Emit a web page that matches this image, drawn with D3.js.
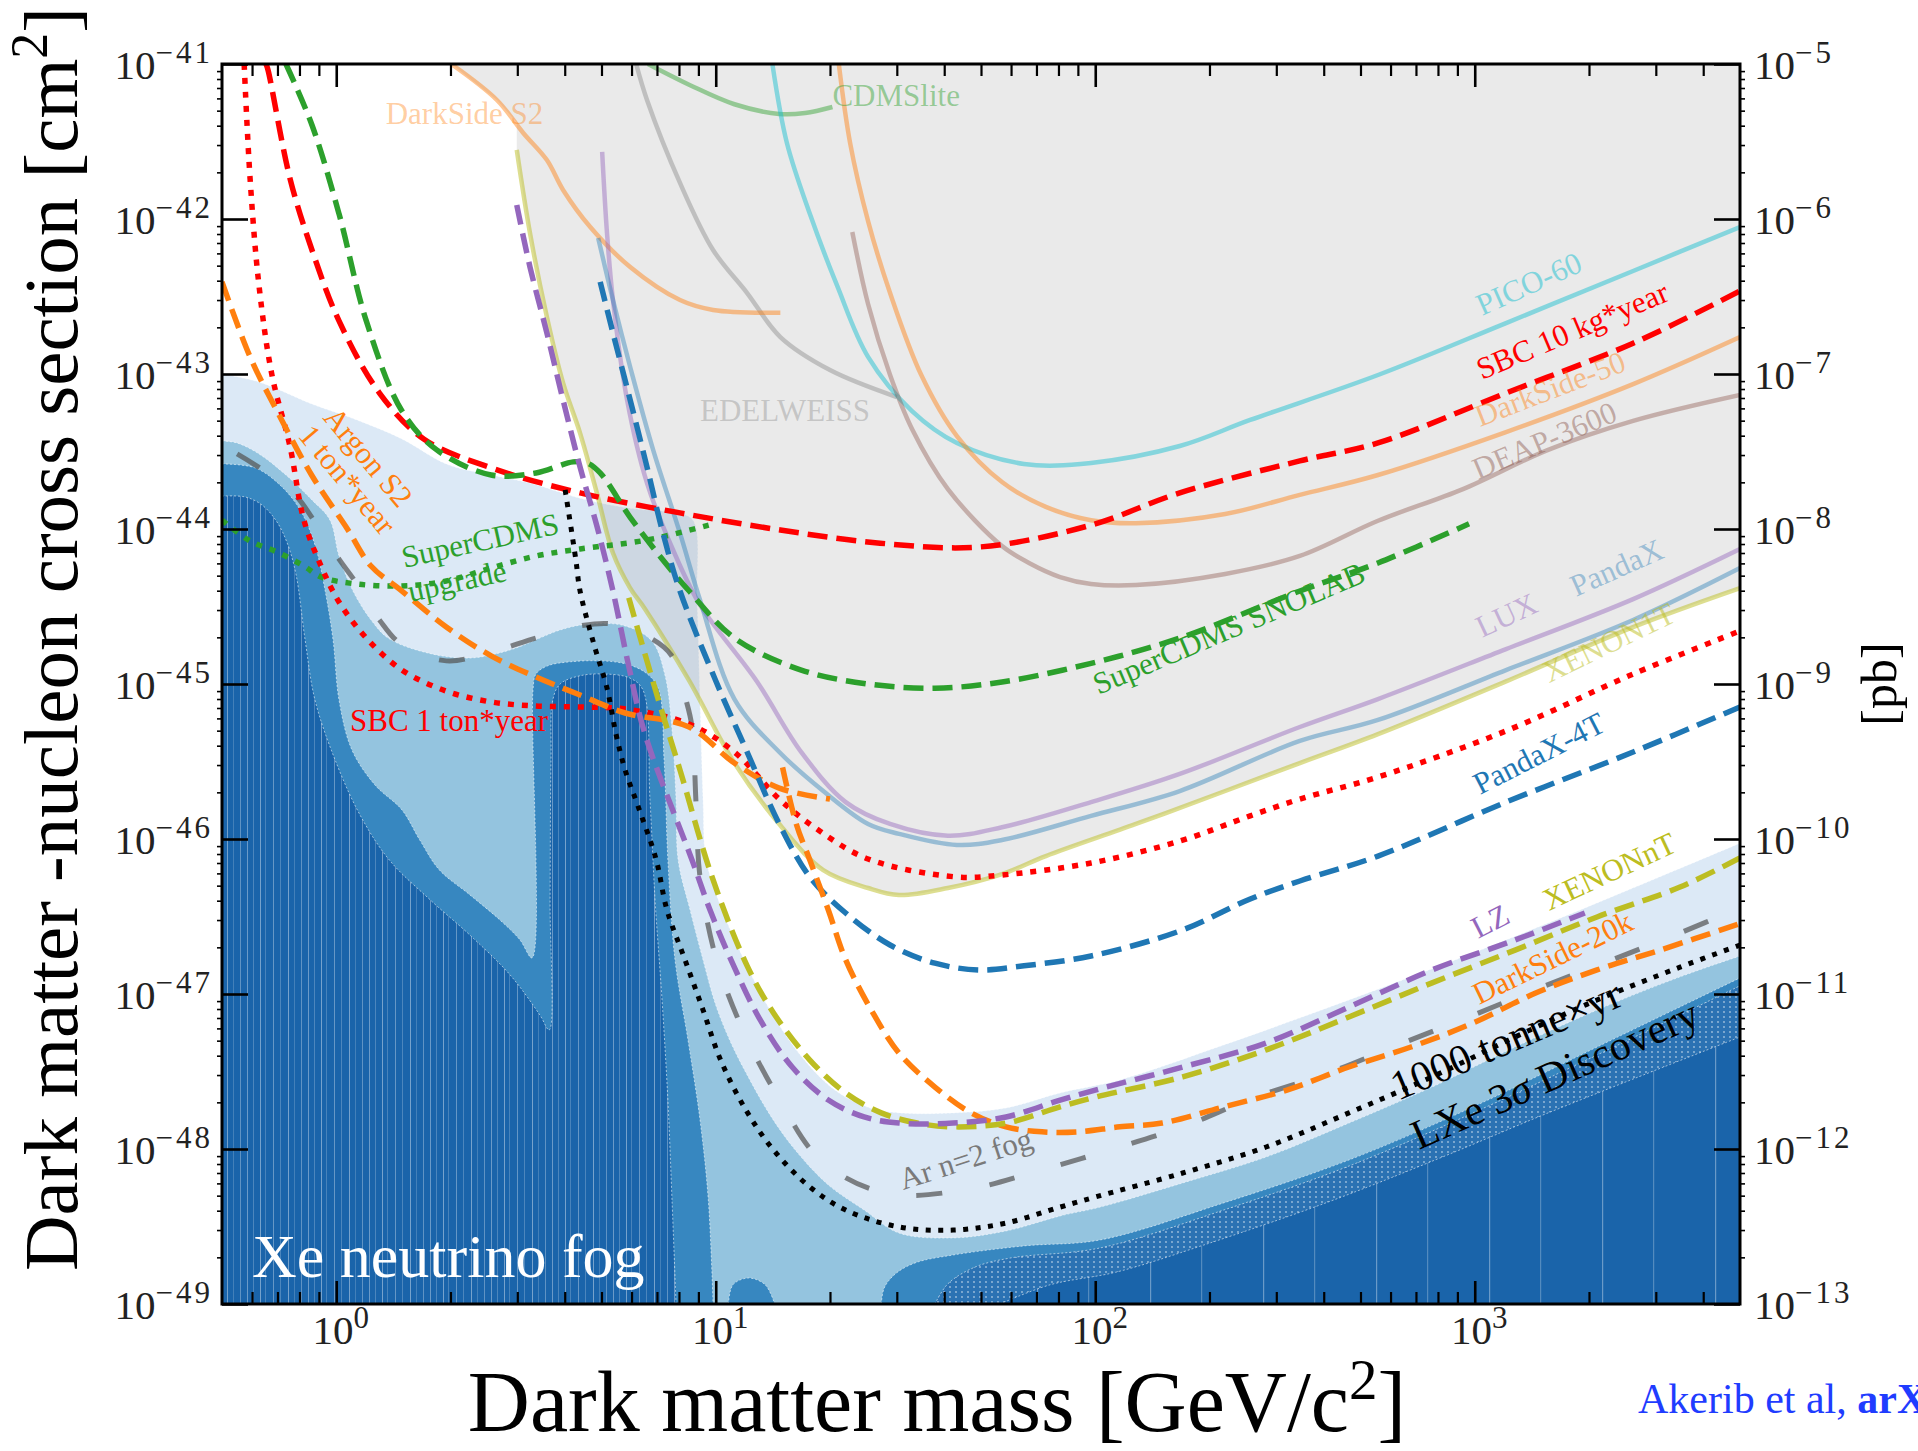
<!DOCTYPE html>
<html>
<head>
<meta charset="utf-8">
<script src="https://d3js.org/d3.v7.min.js"></script>
<style>
  html, body { margin: 0; padding: 0; background: #fff; }
  svg { display: block; }
  text { font-family: "Liberation Serif", "Times New Roman", serif; }
</style>
</head>
<body>
<svg id="chart" width="1918" height="1451"></svg>
<script>
// ------------------------------------------------------------------
// Data: [WIMP mass (GeV/c^2), SI WIMP-nucleon cross section (cm^2)]
// ------------------------------------------------------------------

// Tick labels (powers of ten)
const massTickPowers = [0, 1, 2, 3];
const cm2TickPowers = [-41, -42, -43, -44, -45, -46, -47, -48, -49];
const pbTickPowers = [-5, -6, -7, -8, -9, -10, -11, -12, -13];

// Current limits (solid lines)
const cdmsLite = [[6.63,1e-41],[8.56,7.3e-42],[11.2,5.5e-42],[14.7,4.76e-42],[17.2,4.83e-42],[20.3,5.28e-42]];
const edelweiss = [[6.17,1e-41],[6.59,5.86e-42],[8.05,1.71e-42],[9.84,6.31e-43],[12.1,3.33e-43],[14.8,1.73e-43],[20.0,1.06e-43],[30.0,7.1e-44]];
const darkSideS2 = [[2.01,1e-41],[2.65,5.86e-42],[3.11,3.59e-42],[3.59,2.40e-42],[3.96,1.54e-42],[4.67,8.88e-43],[5.95,4.9e-43],[8.05,3.0e-43],[9.84,2.59e-43],[14.8,2.48e-43]];
const pico60 = [[14.1,1e-41],[15.4,3.09e-42],[17.7,1.08e-42],[20.9,3.70e-43],[25.2,1.29e-43],[32.9,5.77e-44],[43.2,3.59e-44],[64.9,2.63e-44],[97.5,2.67e-44],[167,3.43e-44],[256,5.05e-44],[556,9.85e-44],[1209,2.13e-43],[2614,4.62e-43],[5000,8.88e-43]];
const darkSide50 = [[21.1,1e-41],[22.6,3.09e-42],[25.2,9.7e-43],[28.8,3.33e-43],[34.8,9.85e-44],[43.2,3.98e-44],[56.8,2.01e-44],[74.1,1.39e-44],[97.5,1.14e-44],[128,1.09e-44],[220,1.25e-44],[346,1.66e-44],[556,2.23e-44],[1209,4.22e-44],[2614,8.6e-44],[5000,1.73e-43]];
const deap3600 = [[22.9,8.24e-43],[25.2,2.83e-43],[28.8,9.85e-44],[32.9,4.42e-44],[40.9,1.81e-44],[56.8,7.76e-45],[66.9,6.04e-45],[80.8,4.9e-45],[97.5,4.42e-45],[128,4.35e-45],[220,5.13e-45],[346,6.7e-45],[556,1.13e-44],[931,1.81e-44],[1561,3.24e-44],[2614,4.98e-44],[5000,7.32e-44]];
const lux = [[5.02,2.71e-42],[5.17,8.1e-43],[5.36,3.0e-43],[5.84,6.8e-44],[6.59,1.98e-44],[7.72,7.32e-45],[9.09,3.24e-45],[12.8,1.05e-45],[16.8,3.64e-46],[22.0,1.73e-46],[28.8,1.25e-46],[40.9,1.05e-46],[56.8,1.19e-46],[97.5,1.73e-46],[167,2.63e-46],[346,5.28e-46],[556,8.0e-46],[1209,1.68e-45],[2614,3.53e-45],[5000,7.43e-45]];
const pandaX = [[4.9,7.54e-43],[5.36,3.0e-43],[5.95,1.11e-43],[6.84,3.24e-44],[8.05,9.4e-45],[9.09,3.48e-45],[11.2,8.0e-46],[14.7,3.64e-46],[19.2,2.04e-46],[25.2,1.25e-46],[30.4,1.08e-46],[43.2,9.15e-47],[56.8,9.85e-47],[97.5,1.41e-46],[167,2.04e-46],[346,4.29e-46],[556,5.86e-46],[1209,1.23e-45],[2614,2.59e-45],[5000,5.6e-45]];
const xenon1T = [[2.99,2.79e-42],[3.24,8.1e-43],[3.59,2.33e-43],[3.96,8.75e-44],[4.39,4.16e-44],[4.86,1.71e-44],[5.36,7.0e-45],[5.95,4.16e-45],[6.51,3.05e-45],[8.51,1.05e-45],[11.2,3.09e-46],[14.7,1.25e-46],[19.2,6.3e-47],[25.2,4.83e-47],[30.4,4.35e-47],[40.9,4.83e-47],[56.8,5.94e-47],[74.1,7.76e-47],[128,1.25e-46],[220,2.04e-46],[346,3.09e-46],[556,4.75e-46],[1209,1.04e-45],[2613,2.33e-45],[5000,4.16e-45]];
// Excluded region edge above XENON1T at low mass
const excludedTop = [[2.01,1e-41],[2.65,5.86e-42],[2.99,4.2e-42]];

// Projected sensitivities
const sbc10kg = [[0.653,1e-41],[0.661,9.15e-42],[0.756,1.81e-42],[0.863,6.31e-43],[1.017,2.2e-43],[1.30,7.54e-44],[1.70,3.81e-44],[2.56,2.48e-44],[4.39,1.71e-44],[8.05,1.27e-44],[14.8,9.85e-45],[27.1,8.1e-45],[49.7,7.66e-45],[97.5,1.06e-44],[167,1.71e-44],[346,2.75e-44],[556,3.59e-44],[1209,7.54e-44],[2614,1.58e-43],[5000,3.43e-43]];
const superCdmsSnolab = [[0.737,1e-41],[0.863,4.04e-42],[1.017,1.08e-42],[1.20,2.2e-43],[1.49,5.77e-44],[1.84,3.24e-44],[2.56,2.23e-44],[3.36,2.3e-44],[4.21,2.71e-44],[4.58,2.67e-44],[4.96,2.3e-44],[5.95,1.19e-44],[7.26,6.31e-45],[8.51,3.98e-45],[11.2,1.98e-45],[16.8,1.23e-45],[25.2,1e-45],[37.8,9.4e-46],[56.8,1.03e-45],[97.5,1.36e-45],[167,1.98e-45],[346,3.98e-45],[556,6.04e-45],[966,1.08e-44]];
const superCdmsUpgrade = [[0.5,1.14e-44],[0.593,8.37e-45],[0.698,7.11e-45],[0.822,5.77e-45],[0.912,4.9e-45],[1.13,4.42e-45],[1.49,4.29e-45],[1.95,4.62e-45],[2.56,5.6e-45],[3.36,6.7e-45],[4.39,7.43e-45],[6.59,8.49e-45],[10.03,1.09e-44]];
const sbc1ton = [[0.572,1e-41],[0.593,1.81e-42],[0.626,3.70e-43],[0.677,9.85e-44],[0.755,3.43e-44],[0.822,1.14e-44],[0.912,5.77e-45],[1.017,3.38e-45],[1.20,1.98e-45],[1.49,1.23e-45],[1.95,9.0e-46],[2.56,7.66e-46],[3.36,7.21e-46],[4.39,7.11e-46],[5.77,6.9e-46],[8.51,5.52e-46],[11.2,3.64e-46],[14.7,1.81e-46],[18.2,1.19e-46],[25.2,7.43e-47],[43.2,5.69e-47],[56.8,5.86e-47],[97.5,7.0e-47],[167,9.7e-47],[256,1.41e-46],[346,1.81e-46],[556,2.51e-46],[1209,4.98e-46],[2614,1.16e-45],[5000,2.2e-45]];
const argonS2 = [[0.5,3.93e-43],[0.593,1.29e-43],[0.698,5.77e-44],[0.861,2.23e-44],[1.07,1e-44],[1.235,5.77e-45],[1.49,3.98e-45],[1.95,2.33e-45],[2.56,1.52e-45],[3.36,1.11e-45],[4.39,8.49e-46],[5.77,6.5e-46],[8.51,5.28e-46],[11.2,3.09e-46],[14.7,2.13e-46],[20.0,1.81e-46]];
const darkSide20k = [[15.0,2.9e-46],[16.3,1.25e-46],[17.7,7.32e-47],[19.8,3.48e-47],[22.0,1.66e-47],[25.7,7.88e-48],[30.4,4.16e-48],[37.8,2.51e-48],[47.1,1.71e-48],[58.2,1.39e-48],[72.4,1.29e-48],[90.1,1.29e-48],[116,1.39e-48],[150,1.47e-48],[218,1.87e-48],[320,2.4e-48],[466,3.38e-48],[679,4.55e-48],[990,6.5e-48],[1442,1.01e-47],[2100,1.43e-47],[3080,1.92e-47],[5000,2.85e-47]];
const lz = [[2.99,1.23e-42],[3.24,4.9e-43],[3.59,1.84e-43],[3.96,6.8e-44],[4.39,2.51e-44],[4.87,1.03e-44],[5.36,3.98e-45],[5.9,1.3e-45],[6.51,4.75e-46],[8.66,7.32e-47],[9.66,3.48e-47],[10.97,1.66e-47],[13.1,6.8e-48],[15.9,3.38e-48],[19.8,2.07e-48],[24.6,1.61e-48],[30.4,1.47e-48],[42.2,1.47e-48],[58.2,1.61e-48],[80.8,2.07e-48],[100,2.4e-48],[170,3.38e-48],[282,4.83e-48],[466,8.24e-48],[772,1.43e-47],[1277,2.23e-47],[1950,3.33e-47]];
const xenonNT = [[5.9,3.6e-45],[7.05,8.0e-46],[8.05,2.79e-46],[9.78,5.69e-47],[12.1,1.52e-47],[14.2,7.54e-48],[17.7,3.75e-48],[22.0,2.3e-48],[27.3,1.71e-48],[33.9,1.47e-48],[42.2,1.39e-48],[58.2,1.47e-48],[80.8,1.87e-48],[100,2.16e-48],[170,2.92e-48],[282,4.36e-48],[466,7.11e-48],[772,1.18e-47],[1277,1.92e-47],[2100,3.14e-47],[3475,4.9e-47],[5000,7.54e-47]];
const pandaX4T = [[4.96,3.93e-43],[5.36,1.84e-43],[5.95,6.8e-44],[6.59,2.51e-44],[7.26,9.4e-45],[8.05,3.98e-45],[10.0,1.05e-45],[12.1,3.64e-46],[14.7,1.25e-46],[17.7,5.69e-47],[22.0,3.33e-47],[28.8,2.07e-47],[37.8,1.58e-47],[49.4,1.43e-47],[64.9,1.52e-47],[97.5,1.76e-47],[167,2.55e-47],[256,4.1e-47],[346,5.36e-47],[556,7.76e-47],[1209,1.73e-46],[2614,3.64e-46],[5000,7.11e-46]];
const lxeDiscovery = [[4.01,1.79e-44],[4.28,6.31e-45],[4.39,3.98e-45],[4.78,1.79e-45],[5.17,9.4e-46],[5.46,4.75e-46],[5.77,2.79e-46],[6.24,1.63e-46],[6.96,7.43e-47],[7.44,3.48e-47],[8.3,1.66e-47],[9.26,7.88e-48],[10.3,3.75e-48],[12.0,1.79e-48],[14.2,9.85e-49],[17.7,5.69e-49],[22.0,4.04e-49],[30.4,3.14e-49],[42.2,3.0e-49],[58.2,3.33e-49],[80.8,4.22e-49],[100,4.9e-49],[170,7.0e-49],[282,1.03e-48],[466,1.71e-48],[772,2.92e-48],[1277,5.28e-48],[2100,9.15e-48],[3475,1.49e-47],[5000,2.07e-47]];
const argonFog = [[0.548,3.05e-44],[0.641,2.4e-44],[0.779,1.66e-44],[0.906,9.85e-45],[1.017,6.4e-45],[1.134,4.42e-45],[1.30,2.59e-45],[1.49,1.79e-45],[1.95,1.41e-45],[2.56,1.61e-45],[3.36,1.98e-45],[4.39,2.37e-45],[5.33,2.44e-45],[6.51,2.07e-45],[7.63,1.54e-45],[8.35,7.88e-46],[8.66,5.28e-46],[8.87,1.73e-46],[9.09,5.69e-47],[10.0,1.73e-47],[11.7,6.12e-48],[14.6,2.16e-48],[18.9,8.49e-49],[27.9,5.2e-49],[45.1,5.43e-49],[69.4,7.11e-49],[109,9.85e-49],[170,1.39e-48],[260,2.13e-48],[411,3.09e-48],[628,4.69e-48],[966,7.11e-48],[1477,1.09e-47],[2300,1.66e-47],[3520,2.51e-47],[5000,3.59e-47]];

// Xe neutrino fog contour levels (upper edges, lightest to darkest)
const fogLevel1 = [[0.5,1e-43],[0.626,8.88e-44],[0.863,6.4e-44],[1.134,5.05e-44],[1.49,3.81e-44],[1.95,2.63e-44],[2.56,2.23e-44],[3.24,1.98e-44],[4.39,1.58e-44],[5.95,1.36e-44],[7.81,1.27e-44],[8.71,1.14e-44],[8.93,3.48e-45],[9.09,7.88e-46],[9.26,1.79e-46],[9.44,7.32e-47],[10.4,3.48e-47],[11.7,1.79e-47],[13.9,7.88e-48],[16.7,4.04e-48],[20.6,2.4e-48],[25.5,1.84e-48],[30.6,1.71e-48],[42.2,1.71e-48],[58.2,1.84e-48],[80.8,2.3e-48],[116,2.79e-48],[218,4.69e-48],[466,9.15e-48],[990,1.84e-47],[2100,3.87e-47],[5000,9.4e-47]];
const fogLevel2 = [[0.5,3.7e-44],[0.548,3.59e-44],[0.626,3.05e-44],[0.737,2.23e-44],[0.863,1.54e-44],[0.963,1.14e-44],[1.017,6.7e-45],[1.107,3.98e-45],[1.235,2.59e-45],[1.37,1.98e-45],[1.70,1.61e-45],[2.24,1.47e-45],[2.92,1.68e-45],[3.44,1.98e-45],[3.89,2.23e-45],[4.64,2.44e-45],[5.77,2.37e-45],[6.79,1.89e-45],[7.35,1.14e-45],[7.67,5.05e-46],[7.86,1.79e-46],[7.96,7.32e-47],[8.56,3.48e-47],[9.26,1.66e-47],[10.0,8.49e-48],[10.97,4.83e-48],[12.3,2.79e-48],[13.9,1.66e-48],[16.2,9.85e-49],[19.8,5.86e-49],[24.6,4.04e-49],[30.4,2.87e-49],[42.2,2.67e-49],[58.2,2.96e-49],[80.8,3.7e-49],[103,4.22e-49],[170,6.04e-49],[282,8.88e-49],[466,1.47e-48],[772,2.51e-48],[1277,4.55e-48],[2100,7.88e-48],[3475,1.29e-47],[5000,1.76e-47]];
const fogLevel3Left = [[0.5,2.63e-44],[0.611,2.48e-44],[0.711,1.92e-44],[0.803,1.33e-44],[0.879,7.88e-45],[0.934,4.04e-45],[0.981,1.92e-45],[1.017,7.88e-46],[1.10,3.75e-46],[1.265,2.23e-46],[1.49,1.54e-46],[1.66,9.85e-47],[1.87,6.31e-47],[2.25,4.36e-47],[2.70,3.0e-47],[3.05,2.23e-47],[3.28,1.71e-47],[3.30,9.15e-46],[3.36,1.16e-45],[3.61,1.31e-45],[4.13,1.39e-45],[4.96,1.41e-45],[5.77,1.35e-45],[6.51,1.19e-45],[7.05,9.4e-46],[7.31,3.24e-46],[7.48,7.32e-47],[7.81,1.66e-47],[8.45,5.05e-48],[9.09,1.54e-48],[9.56,4.69e-49],[9.84,1e-49]];
const fogLevel3Lobe = [[10.8,1e-49],[11.1,1.33e-49],[12.2,1.47e-49],[13.5,1.33e-49],[14.3,1e-49]];
const fogLevel3Right = [[27.3,1e-49],[27.8,1.27e-49],[29.7,1.56e-49],[33.5,1.84e-49],[42.2,2.07e-49],[64.9,2.37e-49],[103,2.59e-49],[218,4.49e-49],[466,8.49e-49],[990,1.87e-48],[2100,4.55e-48],[5000,1.27e-47]];
const fogLevel4Left = [[0.5,1.63e-44],[0.575,1.61e-44],[0.637,1.43e-44],[0.698,1.11e-44],[0.746,7.88e-45],[0.784,5.05e-45],[0.828,1.92e-45],[0.879,7.88e-46],[0.993,3.24e-46],[1.155,1.43e-46],[1.38,7.32e-47],[1.77,4.04e-47],[2.25,2.4e-47],[2.87,1.33e-47],[3.44,7.32e-48],[3.64,5.86e-48],[3.66,4.04e-47],[3.68,3.24e-46],[3.72,7.88e-46],[3.89,1e-45],[4.39,1.13e-45],[5.11,1.16e-45],[5.95,1.09e-45],[6.43,9.15e-46],[6.71,1.79e-46],[6.92,4.04e-47],[7.22,9.15e-48],[7.48,2.07e-48],[7.67,4.69e-49],[7.86,1e-49]];
const fogLevel4Band = [[37.8,1e-49],[40.9,1.35e-49],[48.2,1.73e-49],[59.7,1.98e-49],[103,2.3e-49],[218,4.04e-49],[466,7.76e-49],[990,1.71e-48],[2100,4.04e-48],[5000,1.13e-47]];
const fogLevel4Right = [[56.1,1e-49],[76.0,1.33e-49],[114,1.61e-49],[193,2.4e-49],[411,4.55e-49],[810,8.75e-49],[1561,1.71e-48],[5000,5.28e-48]];

// ------------------------------------------------------------------
// Layout and scales
// ------------------------------------------------------------------
const W = 1918, H = 1451;
const M = { left: 222, right: 1740, top: 64, bottom: 1304 };
const massDomain = [0.5, 5000];
const sigmaDomain = [1e-49, 1e-41];

const x = d3.scaleLog().domain(massDomain).range([M.left, M.right]);
const y = d3.scaleLog().domain(sigmaDomain).range([M.bottom, M.top]);
const yPb = d3.scaleLog().domain([1e-13, 1e-5]).range([M.bottom, M.top]);

const dec = p => +("1e" + p);
const line = d3.line().x(d => x(d[0])).y(d => y(d[1])).curve(d3.curveCatmullRom.alpha(0.5));
const lineLinear = d3.line().x(d => x(d[0])).y(d => y(d[1]));

const svg = d3.select("#chart");
svg.append("rect").attr("width", W).attr("height", H).attr("fill", "#fff");

const defs = svg.append("defs");
defs.append("clipPath").attr("id", "plotClip")
  .append("rect").attr("x", M.left).attr("y", M.top)
  .attr("width", M.right - M.left).attr("height", M.bottom - M.top);

// streak texture inside the darkest fog level
const streaks = defs.append("pattern").attr("id", "streaks")
  .attr("patternUnits", "userSpaceOnUse").attr("width", 61).attr("height", 40);
[[3, .35], [9, .22], [16, .4], [21, .2], [29, .33], [36, .22], [44, .4], [50, .18], [57, .3]]
  .forEach(([px, o]) => streaks.append("rect").attr("x", px).attr("y", 0)
    .attr("width", 1).attr("height", 40).attr("fill", "#fff").attr("fill-opacity", o));
const sparse = defs.append("pattern").attr("id", "streaksSparse")
  .attr("patternUnits", "userSpaceOnUse").attr("width", 113).attr("height", 40);
[[20, .35], [71, .25]].forEach(([px, o]) => sparse.append("rect").attr("x", px).attr("y", 0)
  .attr("width", 1.2).attr("height", 40).attr("fill", "#fff").attr("fill-opacity", o));
// dotted contour band texture
const dots = defs.append("pattern").attr("id", "dots")
  .attr("patternUnits", "userSpaceOnUse").attr("width", 6).attr("height", 5);
dots.append("rect").attr("width", 6).attr("height", 5).attr("fill", "#2b72b3");
dots.append("circle").attr("cx", 2).attr("cy", 2).attr("r", 0.9).attr("fill", "#fff").attr("fill-opacity", 0.55);

const plot = svg.append("g").attr("clip-path", "url(#plotClip)");

// ------------------------------------------------------------------
// Neutrino fog
// ------------------------------------------------------------------
const BL = [massDomain[0], sigmaDomain[0]], BR = [massDomain[1], sigmaDomain[0]];
const fogPath = (edge, closing) =>
  line(edge) + closing.map(p => `L${x(p[0])},${y(p[1])}`).join("") + "Z";

const fogLayers = [
  { edge: fogLevel1, close: [BR, BL], fill: "#dce9f6" },
  { edge: fogLevel2, close: [BR, BL], fill: "#94c4df" },
  { edge: fogLevel3Left, close: [BL], fill: "#3787c0" },
  { edge: fogLevel3Lobe, close: [], fill: "#3787c0" },
  { edge: fogLevel3Right, close: [BR], fill: "#3787c0" },
  { edge: fogLevel4Left, close: [BL], fill: "#1a64aa", texture: "url(#streaks)" },
  { edge: fogLevel4Band, close: [BR], fill: "url(#dots)" },
  { edge: fogLevel4Right, close: [BR], fill: "#1a64aa", texture: "url(#streaksSparse)" }
];
fogLayers.forEach(l => {
  const d = fogPath(l.edge, l.close);
  plot.append("path").attr("d", d).attr("fill", l.fill);
  if (l.texture) plot.append("path").attr("d", d).attr("fill", l.texture);
  plot.append("path").attr("d", d).attr("fill", "none")
    .attr("stroke", "#fff").attr("stroke-width", 1).attr("stroke-opacity", 0.55)
    .attr("stroke-dasharray", "2,2");
});

// ------------------------------------------------------------------
// Excluded region (above current limits)
// ------------------------------------------------------------------
plot.append("path")
  .attr("d", lineLinear(excludedTop) + line(xenon1T).replace(/^M/, "L") +
    `L${x(massDomain[1])},${y(sigmaDomain[1])}Z`)
  .attr("fill", "#808080").attr("fill-opacity", 0.17);

// ------------------------------------------------------------------
// Limit curves
// ------------------------------------------------------------------
const DASH = "20,9", DOT = "6,8", DOT_BLACK = "5,7.5";
const curves = [
  // current results
  { data: cdmsLite, color: "#2ca02c", op: 0.45, w: 4.5 },
  { data: edelweiss, color: "#7f7f7f", op: 0.4, w: 4.5 },
  { data: darkSideS2, color: "#ff7f0e", op: 0.45, w: 4.5 },
  { data: pico60, color: "#17becf", op: 0.48, w: 4.5 },
  { data: darkSide50, color: "#ff7f0e", op: 0.45, w: 4.5 },
  { data: deap3600, color: "#8c564b", op: 0.4, w: 4.5 },
  { data: lux, color: "#9467bd", op: 0.45, w: 4.5 },
  { data: pandaX, color: "#1f77b4", op: 0.4, w: 4.5 },
  { data: xenon1T, color: "#bcbd22", op: 0.5, w: 4.5 },
  // projections
  { data: argonFog, color: "#555", op: 0.72, w: 5, dash: "26,48" },
  { data: superCdmsUpgrade, color: "#2ca02c", op: 1, w: 5.5, dash: DOT },
  { data: sbc1ton, color: "#ff0000", op: 1, w: 5.5, dash: DOT },
  { data: argonS2, color: "#ff7f0e", op: 1, w: 5.5, dash: DASH },
  { data: sbc10kg, color: "#ff0000", op: 1, w: 5.5, dash: DASH },
  { data: superCdmsSnolab, color: "#2ca02c", op: 1, w: 5.5, dash: DASH },
  { data: pandaX4T, color: "#1f77b4", op: 1, w: 5.5, dash: DASH },
  { data: darkSide20k, color: "#ff7f0e", op: 1, w: 5.5, dash: DASH },
  { data: xenonNT, color: "#bcbd22", op: 1, w: 5.5, dash: DASH },
  { data: lz, color: "#9467bd", op: 1, w: 5.5, dash: DASH },
  { data: lxeDiscovery, color: "#000", op: 1, w: 5, dash: DOT_BLACK }
];
curves.forEach(c => {
  plot.append("path").attr("d", line(c.data)).attr("fill", "none")
    .attr("stroke", c.color).attr("stroke-opacity", c.op).attr("stroke-width", c.w)
    .attr("stroke-dasharray", c.dash || null).attr("stroke-linecap", "butt")
    .attr("stroke-linejoin", "round");
});

// ------------------------------------------------------------------
// Curve labels (anchored in data coordinates)
// ------------------------------------------------------------------
const curveLabels = [
  { text: "CDMSlite", at: [20.3, 5.36e-42], angle: 0, color: "#2ca02c", op: 0.45 },
  { text: "DarkSide S2", at: [1.35, 4.1e-42], angle: 0, color: "#ff7f0e", op: 0.4 },
  { text: "EDELWEISS", at: [9.09, 4.98e-44], angle: 0, color: "#7f7f7f", op: 0.35 },
  { text: "PICO-60", at: [1045, 2.37e-43], angle: -24, color: "#17becf", op: 0.5 },
  { text: "SBC 10 kg*year", at: [1045, 9.15e-44], angle: -23, color: "#ff0000", op: 1 },
  { text: "DarkSide-50", at: [1032, 4.55e-44], angle: -21, color: "#ff7f0e", op: 0.45 },
  { text: "DEAP-3600", at: [1020, 2.07e-44], angle: -23, color: "#8c564b", op: 0.45 },
  { text: "SuperCDMS SNOLAB", at: [102, 8.49e-46], angle: -23, color: "#2ca02c", op: 1 },
  { text: "LUX", at: [1045, 1.98e-45], angle: -25, color: "#9467bd", op: 0.45 },
  { text: "PandaX", at: [1849, 3.64e-45], angle: -24, color: "#1f77b4", op: 0.4 },
  { text: "XENON1T", at: [1569, 1.01e-45], angle: -26, color: "#bcbd22", op: 0.5 },
  { text: "PandaX-4T", at: [1032, 1.92e-46], angle: -27, color: "#1f77b4", op: 1 },
  { text: "LZ", at: [1020, 2.26e-47], angle: -27, color: "#9467bd", op: 1 },
  { text: "XENONnT", at: [1569, 3.43e-47], angle: -25, color: "#bcbd22", op: 1 },
  { text: "DarkSide-20k", at: [1026, 8.49e-48], angle: -26, color: "#ff7f0e", op: 1 },
  { text: "Ar n=2 fog", at: [31.2, 5.43e-49], angle: -18, color: "#7a7a7a", op: 1 },
  { text: "SuperCDMS", at: [1.51, 5.6e-45], angle: -12.5, color: "#2ca02c", op: 1 },
  { text: "upgrade", at: [1.57, 3.38e-45], angle: -12.5, color: "#2ca02c", op: 1 },
  { text: "Argon S2", at: [0.917, 5.2e-44], angle: 50, color: "#ff7f0e", op: 1 },
  { text: "1 ton*year", at: [0.788, 3.98e-44], angle: 50, color: "#ff7f0e", op: 1 },
  { text: "SBC 1 ton*year", at: [1.087, 4.98e-46], angle: 0, color: "#ff0000", op: 1 }
];
const labelLayer = svg.append("g");
curveLabels.forEach(l => {
  labelLayer.append("text")
    .attr("transform", `translate(${x(l.at[0])},${y(l.at[1])}) rotate(${l.angle})`)
    .attr("font-size", 31).attr("fill", l.color).attr("fill-opacity", l.op)
    .text(l.text);
});
labelLayer.append("text")
  .attr("transform", `translate(${x(628)},${y(2.04e-48)}) rotate(-23)`)
  .attr("font-size", 42).attr("fill", "#000").text("1000 tonne\u00d7yr");
const disc = labelLayer.append("text")
  .attr("transform", `translate(${x(713)},${y(9.85e-49)}) rotate(-24)`)
  .attr("font-size", 42).attr("fill", "#000");
disc.append("tspan").text("LXe 3");
disc.append("tspan").attr("font-style", "italic").text("\u03c3");
disc.append("tspan").text(" Discovery");
labelLayer.append("text")
  .attr("x", x(0.600)).attr("y", y(1.49e-49))
  .attr("font-size", 62).attr("fill", "#fff").text("Xe neutrino fog");

// ------------------------------------------------------------------
// Axes
// ------------------------------------------------------------------
const minorBetween = (p0, p1, lo, hi) => {
  const out = [];
  for (let p = p0; p <= p1; p++)
    for (let k = 2; k <= 9; k++) { const v = k * dec(p); if (v > lo && v < hi) out.push(v); }
  return out;
};
const massMajor = massTickPowers.map(dec);
const massMinor = minorBetween(-1, 3, massDomain[0], massDomain[1]);
const cm2Major = cm2TickPowers.map(dec);
const cm2Minor = minorBetween(-49, -42, sigmaDomain[0], sigmaDomain[1]);
const pbMajor = pbTickPowers.map(dec);
const pbMinor = minorBetween(-13, -6, 1e-13, 1e-5);

const axes = svg.append("g");
const addAxis = (axis, tx, ty, width) => {
  const g = axes.append("g").attr("transform", `translate(${tx},${ty})`).call(axis);
  g.select(".domain").remove();
  g.selectAll("text").remove();
  g.selectAll(".tick line").attr("stroke", "#000").attr("stroke-width", width);
};
addAxis(d3.axisTop(x).tickValues(massMajor).tickSize(-23).tickFormat(""), 0, M.top, 2.6);
addAxis(d3.axisTop(x).tickValues(massMinor).tickSize(-12).tickFormat(""), 0, M.top, 2.2);
addAxis(d3.axisBottom(x).tickValues(massMajor).tickSize(-23).tickFormat(""), 0, M.bottom, 2.6);
addAxis(d3.axisBottom(x).tickValues(massMinor).tickSize(-12).tickFormat(""), 0, M.bottom, 2.2);
addAxis(d3.axisLeft(y).tickValues(cm2Major).tickSize(-26).tickFormat(""), M.left, 0, 2.6);
addAxis(d3.axisLeft(y).tickValues(cm2Minor).tickSize(5).tickFormat(""), M.left, 0, 1.6);
addAxis(d3.axisRight(yPb).tickValues(pbMajor).tickSize(-26).tickFormat(""), M.right, 0, 2.6);
addAxis(d3.axisRight(yPb).tickValues(pbMinor).tickSize(5).tickFormat(""), M.right, 0, 1.6);

axes.append("rect").attr("x", M.left).attr("y", M.top)
  .attr("width", M.right - M.left).attr("height", M.bottom - M.top)
  .attr("fill", "none").attr("stroke", "#000").attr("stroke-width", 3);

const powerLabel = (g, px, py, p, anchor) => {
  const t = g.append("text").attr("x", px).attr("y", py).attr("text-anchor", anchor)
    .attr("font-size", 41).attr("fill", "#222");
  t.append("tspan").text("10");
  t.append("tspan").attr("dy", -16).attr("font-size", 31).attr("letter-spacing", 3)
    .text(p < 0 ? "\u2212" + (-p) : String(p));
};
const tickLabels = svg.append("g");
massTickPowers.forEach(p => powerLabel(tickLabels, x(dec(p)) + 6, M.bottom + 40, p, "middle"));
cm2TickPowers.forEach(p => powerLabel(tickLabels, 213, y(dec(p)) + 15, p, "end"));
pbTickPowers.forEach(p => powerLabel(tickLabels, 1754, yPb(dec(p)) + 15, p, "start"));

// Axis titles
const xt = svg.append("text").attr("x", 937).attr("y", 1431).attr("text-anchor", "middle")
  .attr("font-size", 86).attr("fill", "#000");
xt.append("tspan").text("Dark matter mass [GeV/c");
xt.append("tspan").attr("dy", -32).attr("font-size", 57).text("2");
xt.append("tspan").attr("dy", 32).text("]");

const yt = svg.append("text").attr("transform", "translate(77,639) rotate(-90)")
  .attr("text-anchor", "middle").attr("font-size", 77).attr("fill", "#000");
yt.append("tspan").text("Dark matter -nucleon cross section [cm");
yt.append("tspan").attr("dy", -30).attr("font-size", 52).text("2");
yt.append("tspan").attr("dy", 30).text("]");

svg.append("text").attr("transform", "translate(1896,684) rotate(-90)")
  .attr("text-anchor", "middle").attr("font-size", 50).attr("fill", "#000").text("[pb]");

// Reference
const ref = svg.append("text").attr("x", 1638).attr("y", 1413)
  .attr("font-size", 42).attr("fill", "#1f3cff");
ref.append("tspan").text("Akerib et al, ");
ref.append("tspan").attr("font-weight", "bold").text("arXiv:2203.08084");
</script>
</body>
</html>
